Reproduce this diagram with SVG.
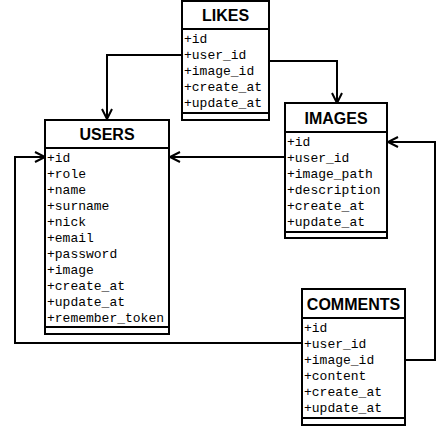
<svg xmlns="http://www.w3.org/2000/svg" width="437" height="427" viewBox="0 0 437 427">
<defs>
<marker id="arr" markerUnits="userSpaceOnUse" markerWidth="14" markerHeight="14" refX="11" refY="6" orient="auto">
<path d="M1,1 L11,6 L1,11" fill="none" stroke="#000" stroke-width="2"/>
</marker>
</defs>
<style>
.box{fill:#fff;stroke:#000;stroke-width:2}
.ln{stroke:#000;stroke-width:2;fill:none}
.t{font-family:'Liberation Sans',Arial,sans-serif;font-weight:bold;font-size:16px;text-anchor:middle;fill:#000}
.f{font-family:'Liberation Mono','Courier New',Courier,monospace;font-size:13px;fill:#000}
.c{stroke:#000;stroke-width:2;fill:none;marker-end:url(#arr)}
</style>
<rect width="437" height="427" fill="#fff"/>
<g id="connectors">
<path class="c" d="M182,55 H107 V119"/>
<path class="c" d="M269,61 H337 V103"/>
<path class="c" d="M285,157 H170"/>
<path class="c" d="M302,343 H15 V157 H45"/>
<path class="c" d="M405,360 H435 V142 H388"/>
</g>
<g id="likes">
<rect class="box" x="182" y="1" width="87" height="119"/>
<line class="ln" x1="182" y1="29" x2="269" y2="29"/>
<line class="ln" x1="182" y1="113" x2="269" y2="113"/>
<text class="t" x="225.5" y="21">LIKES</text>
<g class="f" font-family="Liberation Mono, Courier New, monospace" font-size="13">
<text x="184" y="43">+id</text>
<text x="184" y="59">+user_id</text>
<text x="184" y="75">+image_id</text>
<text x="184" y="91">+create_at</text>
<text x="184" y="107">+update_at</text>
</g>
</g>
<g id="users">
<rect class="box" x="45" y="120" width="124" height="214"/>
<line class="ln" x1="45" y1="148" x2="169" y2="148"/>
<line class="ln" x1="45" y1="327" x2="169" y2="327"/>
<text class="t" x="107" y="140">USERS</text>
<g class="f" font-family="Liberation Mono, Courier New, monospace" font-size="13">
<text x="47" y="162">+id</text>
<text x="47" y="178">+role</text>
<text x="47" y="194">+name</text>
<text x="47" y="210">+surname</text>
<text x="47" y="226">+nick</text>
<text x="47" y="242">+email</text>
<text x="47" y="258">+password</text>
<text x="47" y="274">+image</text>
<text x="47" y="290">+create_at</text>
<text x="47" y="306">+update_at</text>
<text x="47" y="322">+remember_token</text>
</g>
</g>
<g id="images">
<rect class="box" x="285" y="103" width="102" height="135"/>
<line class="ln" x1="285" y1="132" x2="387" y2="132"/>
<line class="ln" x1="285" y1="232" x2="387" y2="232"/>
<text class="t" x="336" y="124">IMAGES</text>
<g class="f" font-family="Liberation Mono, Courier New, monospace" font-size="13">
<text x="287" y="146">+id</text>
<text x="287" y="162">+user_id</text>
<text x="287" y="178">+image_path</text>
<text x="287" y="194">+description</text>
<text x="287" y="210">+create_at</text>
<text x="287" y="226">+update_at</text>
</g>
</g>
<g id="comments">
<rect class="box" x="302" y="289" width="103" height="136"/>
<line class="ln" x1="302" y1="318" x2="405" y2="318"/>
<line class="ln" x1="302" y1="418" x2="405" y2="418"/>
<text class="t" x="353.5" y="310">COMMENTS</text>
<g class="f" font-family="Liberation Mono, Courier New, monospace" font-size="13">
<text x="304" y="332">+id</text>
<text x="304" y="348">+user_id</text>
<text x="304" y="364">+image_id</text>
<text x="304" y="380">+content</text>
<text x="304" y="396">+create_at</text>
<text x="304" y="412">+update_at</text>
</g>
</g>
</svg>
